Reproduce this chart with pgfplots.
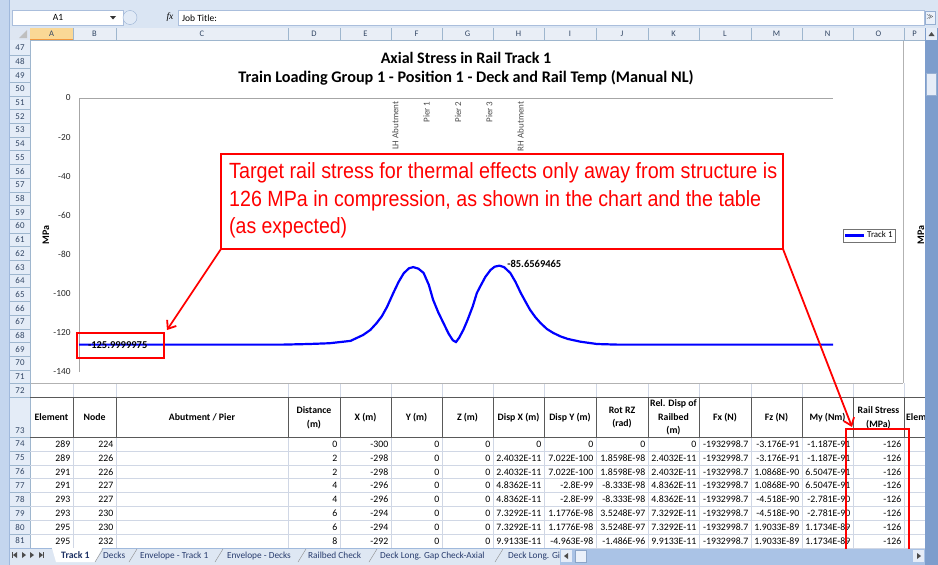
\documentclass[border=0pt]{standalone}
\usepackage{pgfplots}
\pgfplotsset{compat=1.18}
\usepackage{pgfplotstable}
\usepackage{graphicx}
\usepackage{fontspec}
\setmainfont{Carlito}
\newfontfamily\arialf{Liberation Sans}
\newfontfamily\serif{Liberation Serif}
\usetikzlibrary{arrows.meta}
\definecolor{xred}{RGB}{255,0,0}
\definecolor{xblue}{RGB}{0,0,255}
\definecolor{hdrbg}{RGB}{228,236,247}
\definecolor{hdrline}{RGB}{158,182,206}
\definecolor{hdrtext}{RGB}{50,70,100}
\definecolor{gridc}{RGB}{208,215,229}
\definecolor{framec}{RGB}{196,214,238}
\definecolor{sbar}{RGB}{125,157,204}
\definecolor{orangehl}{RGB}{250,216,150}
\definecolor{tabbg}{RGB}{222,231,243}
\definecolor{ribbon}{RGB}{218,229,243}
\definecolor{frline}{RGB}{160,185,220}
\definecolor{nbox}{RGB}{170,190,220}
\definecolor{btn}{RGB}{150,175,210}
\definecolor{btnfill}{RGB}{225,234,246}
\definecolor{btnfilltwo}{RGB}{235,241,250}
\definecolor{colhdr}{RGB}{233,238,246}
\definecolor{corner}{RGB}{222,230,242}
\definecolor{orangeln}{RGB}{242,150,60}
\definecolor{thumb}{RGB}{230,237,248}
\definecolor{tabtext}{RGB}{40,60,110}
\definecolor{tabbold}{RGB}{30,50,100}
\definecolor{hsb}{RGB}{170,195,230}
\definecolor{hsbbox}{RGB}{140,165,200}
\newcommand{\fs}[1]{\fontsize{#1bp}{#1bp}\selectfont}
\def\edges{30,73,116,288,340,391,442,493,544,596,648,699,751,802,853,904,925}

\pgfplotstableread{
d s
0 -126
100 -126
196 -126
220 -125.7
240 -125.3
260 -124.1
272 -121.1
279 -118.5
285 -115
290 -111.5
295 -106.7
301 -99.6
306 -94
311 -89.5
316 -87
320 -86.4
325 -87.2
330 -89.4
335 -95.5
339 -103
344 -109.5
349 -115
354 -120.5
358 -123.8
361 -124.7
364 -122.5
368 -118.5
372 -113.5
377 -106.5
381 -99.6
384 -96.5
389 -91.5
394 -87.9
398 -86.2
402.6 -85.66
407 -86.4
413 -89.4
418 -94
423 -99.6
428 -104.5
432 -108.3
437 -112
442 -115
448 -118
454 -120
461 -121.8
468 -123.1
480 -124.5
496 -125.7
515 -126
722 -126
}\railtable

\begin{document}
\begin{tikzpicture}
% ---------------- Excel frame and background ----------------
\begin{scope}[x=1bp,y=-1bp]
\fill[white] (0,0) rectangle (938,565);
\fill[ribbon] (0,0) rectangle (938,28);
\fill[framec] (0,0) rectangle (10,565);
\draw[frline] (9.5,0) -- (9.5,565);
\draw[nbox, fill=white] (12,10) rectangle (123,25);
\node[font=\fs{9.5}, text=black] at (58,17.5) {A1};
\fill[black!80] (110,16) -- (116,16) -- (113,19.5) -- cycle;
\draw[btn, fill=btnfill] (130,17.5) ellipse (7 and 7);
\node[font=\serif\itshape\fs{9.5}] at (170,17) {fx};
\draw[nbox, fill=white] (178,10) rectangle (924,25);
\node[anchor=base west, inner sep=0, font=\fs{9.5}] at (182,21) {Job Title:};
\draw[btn, fill=btnfilltwo] (925,11) rectangle (935,24);
\node[font=\fs{6}] at (930,17.5) {$\gg$};
% column header row
\fill[colhdr] (10,28) rectangle (925,40);
\fill[corner] (10,28) rectangle (30,40);
\fill[orangehl] (30,28) rectangle (73,40);
\draw[orangeln, line width=1bp] (30,39.5) -- (73,39.5);
\fill[black!25] (27,30) -- (27,38) -- (19,38) -- cycle;
\draw[hdrline] (10,40) -- (925,40);
\foreach \l [count=\i] in {A,B,C,D,E,F,G,H,I,J,K,L,M,N,O,P} {
  \pgfmathsetmacro{\xa}{{\edges}[\i-1]}
  \pgfmathsetmacro{\xb}{{\edges}[\i]}
  \draw[hdrline] (\xb,28) -- (\xb,40);
  \node[font=\fs{8.5}, text=hdrtext] at ({(\xa+\xb)/2},34) {\l};
}
% row header column
\fill[hdrbg] (10,40) rectangle (30,548);
\draw[hdrline] (30,40) -- (30,548);
\foreach \k in {47,...,72} {
  \pgfmathsetmacro{\yt}{41+(\k-47)*13.7}
  \draw[hdrline] (10,\yt+13.7) -- (30,\yt+13.7);
  \node[font=\fs{8.9}, text=hdrtext] at (20,\yt+6.85) {\k};
}
\node[font=\fs{8.9}, text=hdrtext] at (20,431) {73};
\draw[hdrline] (10,437) -- (30,437);
\foreach \k in {74,...,81} {
  \pgfmathsetmacro{\yt}{437+(\k-74)*13.86}
  \draw[hdrline] (10,\yt+13.86) -- (30,\yt+13.86);
  \node[font=\fs{8.9}, text=hdrtext] at (20,\yt+6.93) {\k};
}
% ---------------- table ----------------
\draw[gridc] (30,397.2) -- (925,397.2);
\foreach \j in {1,...,8} { \draw[gridc] (30,437+\j*13.86) -- (925,437+\j*13.86); }
\foreach \e in {73,116,288,340,391,442,493,544,596,648,699,751,802,853,904} {
  \draw[gridc] (\e,383) -- (\e,397.2);
  \draw[gridc] (\e,437) -- (\e,548);
  \draw[black!65] (\e,397.2) -- (\e,437);
}
\draw[black!65] (30,397.2) -- (925,397.2);
\draw[black!65] (30,437) -- (925,437);
\foreach \t [count=\i] in {Element,Node,Abutment / Pier,{Distance\\(m)},X (m),Y (m),Z (m),Disp X (m),Disp Y (m),{Rot RZ\\(rad)},{Rel. Disp of\\Railbed\\(m)},Fx (N),Fz (N),My (Nm),{Rail Stress\\(MPa)}} {
  \pgfmathsetmacro{\xa}{{\edges}[\i-1]}
  \pgfmathsetmacro{\xb}{{\edges}[\i]}
  \node[font=\bfseries\fontsize{9.8bp}{13.8bp}\selectfont, align=center, inner sep=0] at ({(\xa+\xb)/2},417.5) {\t};
}
\node[font=\bfseries\fs{9.8}, anchor=west, inner sep=0] at (906,417.5) {Elem};
\foreach \vals [count=\j] in {
 {289,224,,0,-300,0,0,0,0,0,0,-1932998.7,-3.176E-91,-1.187E-91,-126},
 {289,226,,2,-298,0,0,2.4032E-11,7.022E-100,1.8598E-98,2.4032E-11,-1932998.7,-3.176E-91,-1.187E-91,-126},
 {291,226,,2,-298,0,0,2.4032E-11,7.022E-100,1.8598E-98,2.4032E-11,-1932998.7,1.0868E-90,6.5047E-91,-126},
 {291,227,,4,-296,0,0,4.8362E-11,-2.8E-99,-8.333E-98,4.8362E-11,-1932998.7,1.0868E-90,6.5047E-91,-126},
 {293,227,,4,-296,0,0,4.8362E-11,-2.8E-99,-8.333E-98,4.8362E-11,-1932998.7,-4.518E-90,-2.781E-90,-126},
 {293,230,,6,-294,0,0,7.3292E-11,1.1776E-98,3.5248E-97,7.3292E-11,-1932998.7,-4.518E-90,-2.781E-90,-126},
 {295,230,,6,-294,0,0,7.3292E-11,1.1776E-98,3.5248E-97,7.3292E-11,-1932998.7,1.9033E-89,1.1734E-89,-126},
 {295,232,,8,-292,0,0,9.9133E-11,-4.963E-98,-1.486E-96,9.9133E-11,-1932998.7,1.9033E-89,1.1734E-89,-126}} {
  \pgfmathsetmacro{\yb}{437+(\j-1)*13.86+10.4}
  \foreach \v [count=\i] in \vals {
    \pgfmathsetmacro{\xr}{{\edges}[\i]-2.5}
    \node[anchor=base east, inner sep=0, font=\fs{9.8}] at (\xr,\yb) {\v};
  }
}
% ---------------- chart area ----------------
\fill[white] (30.5,40.5) rectangle (924,383);
\draw[black!30] (30.5,383) -- (903,383);
\draw[black!30] (903,40.5) -- (903,383);
\node[font=\bfseries\fs{16}, anchor=base] at (466,63) {Axial Stress in Rail Track 1};
\node[font=\bfseries\fs{16.2}, anchor=base] at (466,82) {Train Loading Group 1 - Position 1 - Deck and Rail Temp (Manual NL)};
\node[font=\bfseries\fs{10}, rotate=90] at (46,235) {MPa};
\node[font=\bfseries\fs{10}, rotate=90] at (921,235) {MPa};
\end{scope}

% ---------------- the plot ----------------
\begin{axis}[
  at={(79bp,-98bp)}, anchor=north west,
  scale only axis, width=754bp, height=274bp,
  xmin=0, xmax=722, ymin=-140, ymax=0,
  axis x line*=top, axis y line*=left,
  axis line style={-, draw=black!35, line width=0.8bp},
  ytick={0,-20,-40,-60,-80,-100,-120,-140},
  ytick style={draw=none}, xtick style={draw=none},
  yticklabel style={font=\fs{9.3}, text=black!85, xshift=-5bp, /pgf/number format/assume math mode=true},
  xtick={300,330,360,390,420},
  xticklabels={LH Abutment,Pier 1,Pier 2,Pier 3,RH Abutment},
  xticklabel style={rotate=90, anchor=east, font=\fs{9}, text=black!70, yshift=-3bp},
  clip=false,
  legend style={at={(1.0133,0.498)}, anchor=west, draw=black!55, fill=white,
     font=\fs{8.9}, inner sep=1bp, outer sep=0, row sep=0bp},
  legend cell align=left,
  legend image code/.code={\draw[#1] (0bp,0bp) -- (19bp,0bp);},
]
\addplot[xblue, line width=2.2bp] table[x=d,y=s] {\railtable};
\addlegendentry{Track 1}
\node[anchor=west, font=\bfseries\fs{10.5}, inner sep=0] at (axis cs:8.5,-126) {-125.9999975};
\node[anchor=west, font=\bfseries\fs{10.5}, inner sep=0] at (axis cs:410,-84.9) {-85.6569465};
\end{axis}

% ---------------- annotations ----------------
\begin{scope}[x=1bp,y=-1bp]
\draw[xred, line width=2bp, fill=white] (221,154) rectangle (783,249);
\node[anchor=base west, inner sep=0, text=xred] at (229,179) {\resizebox{548bp}{\height}{\arialf\fs{22}Target rail stress for thermal effects only away from structure is}};
\node[anchor=base west, inner sep=0, text=xred] at (229,207) {\resizebox{532bp}{\height}{\arialf\fs{22}126 MPa in compression, as shown in the chart and the table}};
\node[anchor=base west, inner sep=0, text=xred] at (229,234) {\resizebox{118bp}{\height}{\arialf\fs{22}(as expected)}};
\draw[xred, line width=2bp] (77,333) rectangle (164,358);
\draw[xred, line width=1.8bp, -{Straight Barb[length=7bp,width=11bp]}] (221,249) -- (167,330);
\draw[xred, line width=1.8bp, -{Straight Barb[length=7bp,width=11bp]}] (783,249) -- (852,427);
\draw[xred, line width=2bp] (846,429) rectangle (909,554);
% ---------------- scroll bars and sheet tabs ----------------
\fill[sbar] (925,28) rectangle (938,565);
\fill[thumb] (926,28) rectangle (937,40);
\fill[black!70] (928.5,36) -- (934.5,36) -- (931.5,32) -- cycle;
\draw[btn, fill=thumb] (926.5,73) rectangle (936.5,95);
\fill[tabbg] (10,548) rectangle (560,565);
\draw[frline] (10,548) -- (560,548);
\fill[black!70] (12,552) rectangle (13,558); \fill[black!70] (13,555) -- (17,552) -- (17,558) -- cycle;
\fill[black!70] (26,555) -- (22,552) -- (22,558) -- cycle;
\fill[black!70] (30,552) -- (34,555) -- (30,558) -- cycle;
\fill[black!70] (39,552) -- (43,555) -- (39,558) -- cycle; \fill[black!70] (43,552) rectangle (44,558);
\fill[white] (52,548) -- (102,548) -- (95,562) -- (56,562) -- cycle;
\node[anchor=base west, inner sep=0, font=\bfseries\fs{9.8}, text=tabbold] at (61,558.5) {Track 1};
\foreach \xs/\xt/\t in {95/103/Decks, 129/140/Envelope - Track 1, 215/227/Envelope - Decks, 298/308/Railbed Check, 369/380/Deck Long. Gap Check-Axial, 495/508/Deck Long. Gi} {
  \draw[black!45] (\xs,562) -- (\xs+8,549);
  \node[anchor=base west, inner sep=0, font=\fs{9.3}, text=tabtext] at (\xt,558.5) {\t};
}
\fill[hsb] (560,549) rectangle (925,565);
\fill[thumb] (561,550) rectangle (572,562);
\fill[black!70] (568,553) -- (564,556) -- (568,559) -- cycle;
\draw[hsbbox, fill=btnfilltwo] (575,550) rectangle (586,562);
\fill[thumb] (913,550) rectangle (924,562);
\fill[black!70] (917,553) -- (921,556) -- (917,559) -- cycle;
\end{scope}
\pgfresetboundingbox
\path (0bp,0bp) rectangle (938bp,-565bp);
\end{tikzpicture}
\end{document}
